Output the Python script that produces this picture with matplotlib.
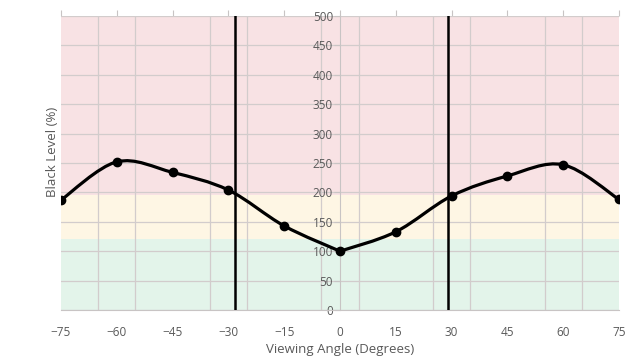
import matplotlib
matplotlib.use("Agg")
import matplotlib.pyplot as plt
import numpy as np
from matplotlib.path import Path
from matplotlib.patches import PathPatch
from matplotlib.ticker import MultipleLocator, FixedLocator

plt.rcParams["font.family"] = ["Open Sans", "DejaVu Sans"]

angles = [-75, -60, -45, -30, -15, 0, 15, 30, 45, 60, 75]
black_level = [187, 252, 234, 204, 143, 100, 133, 194, 228, 247, 188]
cutoffs = [-28.2, 28.9]
bands = [(0, 120, "#e3f4ea"), (120, 196, "#fef6e4"), (196, 500, "#f8e2e4")]

fig = plt.figure(figsize=(6.44, 3.6), dpi=100)
ax = fig.add_axes([61 / 644, 50 / 360, 558 / 644, 294 / 360])

for lo, hi, c in bands:
    ax.axhspan(lo, hi, color=c, lw=0, zorder=0)

ax.set_xlim(-75, 75)
ax.set_ylim(0, 500)
ax.xaxis.set_major_locator(MultipleLocator(15))
ax.xaxis.set_minor_locator(FixedLocator(np.arange(-75, 76, 10)))
ax.yaxis.set_major_locator(MultipleLocator(50))
ax.grid(True, which="minor", axis="x", color="#d2cccc", lw=0.9, zorder=1)
ax.grid(True, which="major", axis="y", color="#d2cccc", lw=0.9, zorder=1)
ax.set_axisbelow(True)

for s in ["top", "right"]:
    ax.spines[s].set_visible(False)
ax.spines["left"].set_position(("data", 0))
ax.spines["left"].set_color("#c8c4c4")
ax.spines["bottom"].set_color("#c8c4c4")
ax.spines["left"].set_zorder(1.5)

ax.tick_params(axis="x", which="major", top=True, bottom=False, labelbottom=True,
               labeltop=False, direction="out", length=4, color="#c8c4c4",
               labelsize=8.5, labelcolor="#595959", pad=7.5)
ax.tick_params(axis="x", which="minor", length=0)
ax.tick_params(axis="y", direction="out", length=4, color="#c8c4c4",
               labelsize=8.5, labelcolor="#595959", pad=1)


def smooth_path(xs, ys):
    # Excel-style smoothed line: cubic Bezier through every point
    pts = np.column_stack([xs, ys]).astype(float)
    verts = [pts[0]]
    codes = [Path.MOVETO]
    n = len(pts)
    for i in range(n - 1):
        p0 = pts[max(i - 1, 0)]
        p1 = pts[i]
        p2 = pts[i + 1]
        p3 = pts[min(i + 2, n - 1)]
        verts += [p1 + (p2 - p0) / 6, p2 - (p3 - p1) / 6, p2]
        codes += [Path.CURVE4] * 3
    return Path(verts, codes)


mid = angles.index(0)
for xs, ys in [(angles[:mid + 1], black_level[:mid + 1]),
               (angles[mid:], black_level[mid:])]:
    ax.add_patch(PathPatch(smooth_path(xs, ys), fill=False, ec="black",
                           lw=2.3, capstyle="round", joinstyle="round", zorder=3))
ax.plot(angles, black_level, "o", color="black", ms=6, zorder=4)

for c in cutoffs:
    ax.axvline(c, color="black", lw=1.8, zorder=3)

ax.set_xlabel("Viewing Angle (Degrees)", fontsize=9.5, color="#595959", labelpad=3)
fig.text(52 / 644, 1 - 152 / 360, "Black Level (%)", rotation=90, fontsize=9.5,
         color="#595959", ha="center", va="center")

fig.savefig("out.png", dpi=100)
